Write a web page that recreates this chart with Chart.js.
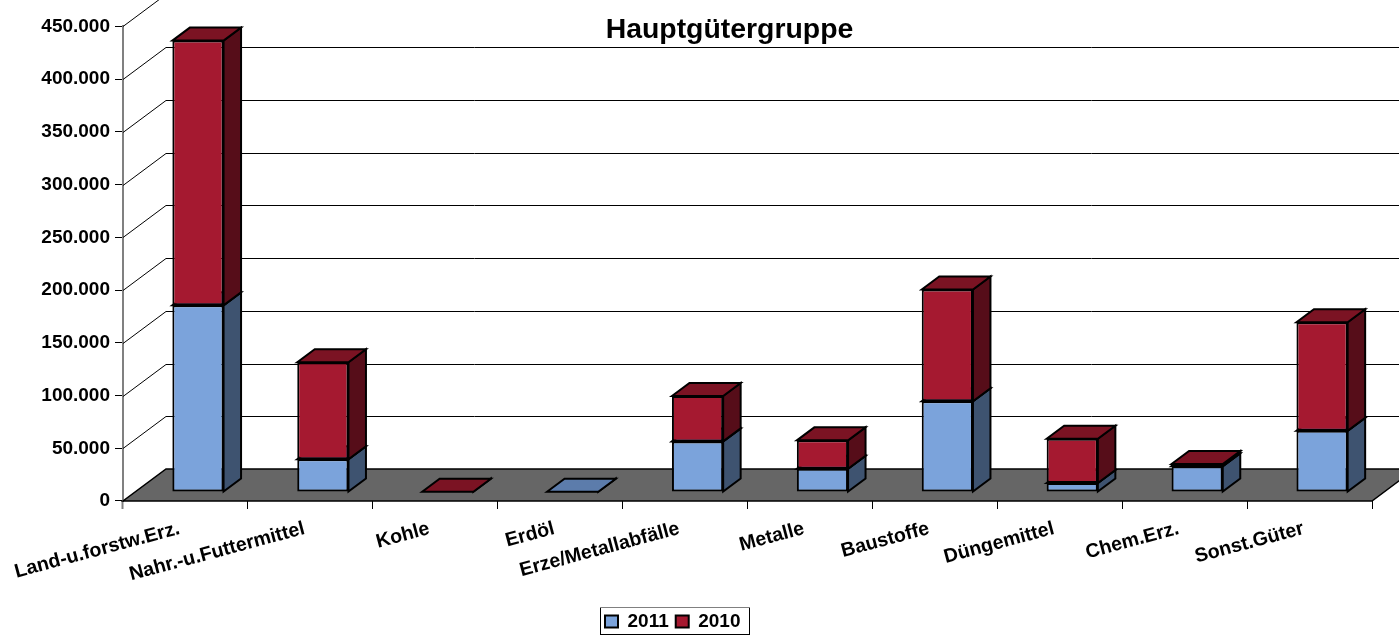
<!DOCTYPE html>
<html lang="de">
<head>
<meta charset="utf-8">
<title>Hauptgütergruppe</title>
<script src="https://cdn.jsdelivr.net/npm/chart.js@4"></script>
<style>html,body{margin:0;padding:0;background:#fff;overflow:hidden}canvas{display:block}</style>
</head>
<body>
<canvas id="c" width="1399" height="635"></canvas>
<script>
const chartTitle = "Hauptgütergruppe";
const categories = ["Land-u.forstw.Erz.","Nahr.-u.Futtermittel","Kohle","Erdöl","Erze/Metallabfälle","Metalle","Baustoffe","Düngemittel","Chem.Erz.","Sonst.Güter"];
const values2011 = [177000,31000,0,300,48000,22000,86000,8500,24500,58000];
const values2010 = [251000,92000,300,0,43000,27000,106000,42000,2000,103000];
const yTickLabels = ["0","50.000","100.000","150.000","200.000","250.000","300.000","350.000","400.000","450.000"];

const FONT = "'Liberation Sans', Arial, sans-serif";
const WALL = {dx: 43, dy: 32};
const BAR = {shiftX: 12.5, shiftY: 9, dx: 17.5, dy: 13};
const COLORS = {
  blue: {front: "#7ba3db", side: "#3e5370", top: "#5c7cab"},
  red:  {front: "#a51930", side: "#560d19", top: "#7b1323"}
};
const faces = [COLORS.blue, COLORS.red];

function poly(ctx, pts, fill, stroke, lw) {
  ctx.beginPath();
  pts.forEach((p, i) => i ? ctx.lineTo(p[0], p[1]) : ctx.moveTo(p[0], p[1]));
  ctx.closePath();
  if (fill) { ctx.fillStyle = fill; ctx.fill(); }
  if (stroke) { ctx.strokeStyle = stroke; ctx.lineWidth = lw; ctx.lineJoin = "miter"; ctx.stroke(); }
}

const scene3d = {
  id: "scene3d",
  afterLayout(chart) {
    const t = chart.titleBlock;
    t.left = 60; t.right = 1399; t.top = 17;
    const l = chart.legend;
    l.left = 598; l.right = 750; l.width = 152; l.top = 605; l.bottom = 635; l.height = 30;
  },
  beforeDatasetsDraw(chart) {
    const {ctx, chartArea: a, scales: {y}} = chart;
    ctx.save();
    // back wall gridlines and their diagonals
    ctx.strokeStyle = "#000"; ctx.lineWidth = 1;
    y.ticks.forEach(t => {
      const py = Math.round(y.getPixelForValue(t.value)) + 0.5;
      ctx.beginPath();
      ctx.moveTo(a.left, py);
      ctx.lineTo(a.left + WALL.dx, py - WALL.dy);
      ctx.lineTo(1420, py - WALL.dy);
      ctx.stroke();
    });
    // floor
    const b = y.getPixelForValue(0);
    poly(ctx, [[a.left, b], [a.right, b], [a.right + WALL.dx, b - WALL.dy], [a.left + WALL.dx, b - WALL.dy]], "#666666", "#000", 1.5);
    // side and top faces of the bars, lowest segment first
    chart.data.datasets.forEach((ds, di) => {
      const meta = chart.getDatasetMeta(di);
      meta.data.forEach((el, i) => {
        if (!ds.data[i]) return;
        const l = el.x - el.width / 2 + BAR.shiftX, r = el.x + el.width / 2 + BAR.shiftX;
        const top = el.y - BAR.shiftY, base = el.base - BAR.shiftY;
        poly(ctx, [[r, top], [r + BAR.dx, top - BAR.dy], [r + BAR.dx, base - BAR.dy], [r, base]], faces[di].side, "#000", 2);
        poly(ctx, [[l, top], [l + BAR.dx, top - BAR.dy], [r + BAR.dx, top - BAR.dy], [r, top]], faces[di].top, "#000", 2);
      });
    });
    ctx.restore();
  },
  beforeDatasetDraw(chart) {
    chart.ctx.save();
    chart.ctx.translate(BAR.shiftX, -BAR.shiftY);
  },
  afterDatasetDraw(chart) {
    chart.ctx.restore();
  },
  afterDraw(chart) {
    const {ctx} = chart;
    ctx.save();
    ctx.strokeStyle = "#000"; ctx.lineWidth = 1;
    ctx.strokeRect(600.5, 607.5, 149, 27);
    ctx.strokeStyle = "#808080";
    ctx.beginPath(); ctx.moveTo(600, 607.5); ctx.lineTo(750, 607.5); ctx.stroke();
    ctx.restore();
  }
};

new Chart(document.getElementById("c"), {
  type: "bar",
  data: {
    labels: categories,
    datasets: [
      {label: "2011", data: values2011, backgroundColor: COLORS.blue.front, borderColor: "#000", borderWidth: 2, borderSkipped: false, clip: false},
      {label: "2010", data: values2010, backgroundColor: COLORS.red.front, borderColor: "#000", borderWidth: 2, borderSkipped: false, clip: false}
    ]
  },
  options: {
    responsive: false,
    animation: false,
    events: [],
    barPercentage: 0.41,
    categoryPercentage: 1,
    layout: {padding: {left: 0, top: 0, right: 27, bottom: 0}},
    plugins: {
      tooltip: {enabled: false},
      title: {
        display: true, text: chartTitle, color: "#000",
        font: {family: FONT, size: 28.4, weight: "bold", lineHeight: 0.93},
        padding: 0
      },
      legend: {
        position: "bottom", align: "start",
        labels: {
          color: "#000", boxWidth: 13, boxHeight: 12, padding: 7,
          font: {family: FONT, size: 19, weight: "bold"},
          generateLabels(chart) {
            return chart.data.datasets.map((d, i) => ({
              text: d.label, datasetIndex: i, fillStyle: d.backgroundColor,
              strokeStyle: "#000", lineWidth: 2, fontColor: "#000"
            }));
          }
        }
      }
    },
    scales: {
      x: {
        stacked: true,
        afterFit(s) { s.height = 98; },
        border: {display: false},
        grid: {
          drawOnChartArea: false, drawTicks: true, tickLength: 8,
          offset: true,
          tickColor: c => c.index === 0 ? "#808080" : "#000",
          tickWidth: c => c.index === 0 ? 2 : 1
        },
        ticks: {
          color: "#000", autoSkip: false, minRotation: 15, maxRotation: 15,
          labelOffset: -6, padding: 8,
          font: {family: FONT, size: 19.6, weight: "bold"}
        }
      },
      y: {
        stacked: true, min: 0, max: 450000,
        afterFit(s) { s.width = 123; },
        border: {display: true, color: "#808080", width: 2},
        grid: {drawOnChartArea: false, tickLength: 8, tickColor: "#000", tickWidth: 1},
        ticks: {
          stepSize: 50000, color: "#000", padding: 5,
          font: {family: FONT, size: 19, weight: "bold"},
          callback: (v, i) => yTickLabels[i]
        }
      }
    }
  },
  plugins: [scene3d]
});
</script>
</body>
</html>
